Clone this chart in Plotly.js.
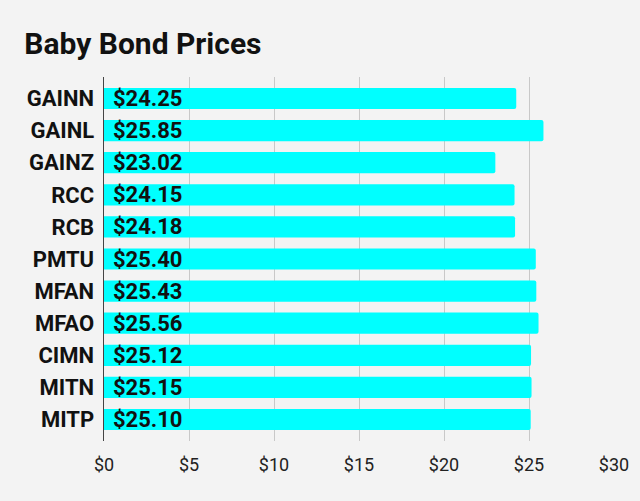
<!DOCTYPE html>
<html><head><meta charset="utf-8">
<script src="https://cdn.plot.ly/plotly-3.0.1.min.js"></script>
<style>html,body{margin:0;padding:0;background:#f3f3f3;}#chart{width:640px;height:501px;}</style>
</head><body><div id="chart"></div>
<script>
const tickers = ["GAINN","GAINL","GAINZ","RCC","RCB","PMTU","MFAN","MFAO","CIMN","MITN","MITP"];
const prices = [24.25,25.85,23.02,24.15,24.18,25.40,25.43,25.56,25.12,25.15,25.10];
const xTickVals = [0,5,10,15,20,25,30];
const xTickText = ["$0","$5","$10","$15","$20","$25","$30"];

const trace = {
  type: "bar", orientation: "h",
  x: prices, y: tickers,
  marker: {color: "#00ffff", cornerradius: 2},
  width: 0.66,
  hoverinfo: "none"
};
const annotations = tickers.map((t, i) => ({
  x: 0, y: t, xref: "x", yref: "y",
  text: "$" + prices[i].toFixed(2),
  xanchor: "left", yanchor: "middle", xshift: 7, showarrow: false,
  font: {family: "Roboto", size: 22, color: "#111", weight: "bold"}
}));
const layout = {
  width: 640, height: 501,
  paper_bgcolor: "#f3f3f3", plot_bgcolor: "#f3f3f3",
  margin: {l: 104, r: 26, t: 77, b: 60},
  title: {text: "<b>Baby Bond Prices</b>", x: 0.038, xanchor: "left", y: 0.914, yanchor: "middle",
          font: {family: "Roboto", size: 30, color: "#111"}},
  xaxis: {range: [0, 30], tickvals: xTickVals, ticktext: xTickText, showgrid: true,
          gridcolor: "#c8c8c8", gridwidth: 1, zeroline: false, showline: false,
          tickfont: {family: "Roboto", size: 18, color: "#222"}, ticks: "", ticklen: 0,
          ticklabelstandoff: 11, fixedrange: true},
  yaxis: {type: "category", range: [10.67, -0.67], showgrid: false, zeroline: false,
          showline: true, linecolor: "#444", linewidth: 1.5, ticks: "", ticklabelstandoff: 4,
          tickfont: {family: "Roboto", size: 22, color: "#111", weight: "bold"}, fixedrange: true},
  annotations: annotations,
  showlegend: false
};
Plotly.newPlot("chart", [trace], layout, {displayModeBar: false, staticPlot: true});
</script></body></html>
